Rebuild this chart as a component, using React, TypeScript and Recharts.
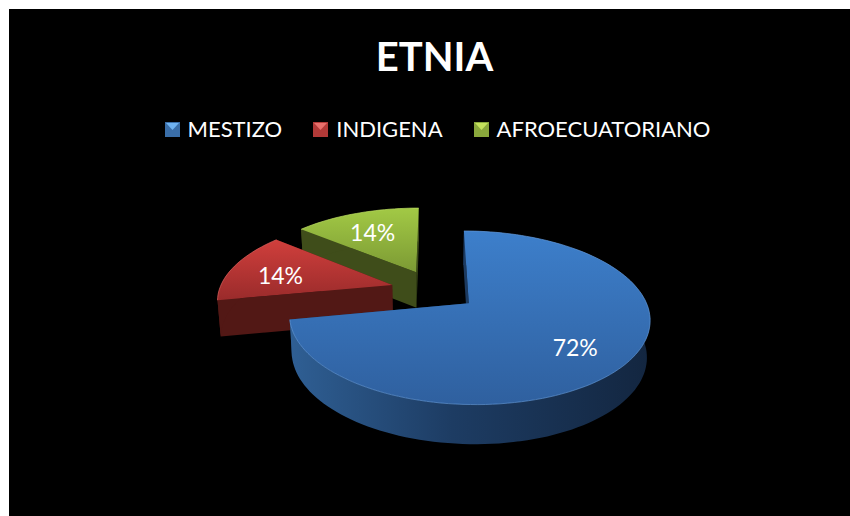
import { PieChart, Pie, Legend } from "recharts";

const names = ["MESTIZO", "INDIGENA", "AFROECUATORIANO"];
const shares = [72, 14, 14];

const fills = ["url(#topBlue)", "url(#topRed)", "url(#topGreen)"];
const walls = ["url(#wallBlue)", "#521815", "#3f4d1a"];
const rims = ["#5f96d6", "#d9605c", "#b8d860"];
const legendFills = ["#3a6ea8", "#b23a38", "#8aa83c"];
const legendTips = ["#6fb2f0", "#e8706c", "#c4e25c"];

// drawn back to front: green, red, blue, so the big slice covers the others
const pieData = names
  .map((name, i) => ({ name, value: shares[i], fill: fills[i], wall: walls[i], rim: rims[i] }))
  .reverse();

const W = 841;
const H = 507;
const FONT = "Lato, Carlito, sans-serif";

// fake 3D: the flat pie is laid on a plane and viewed in perspective
const SQUASH = 0.4624; // 80 / 173
const PERSP = 0.163;
const EXPLODE = 0.253;
const DEPTH = 36;

const rad = (deg: number) => (deg * Math.PI) / 180;

const project = (cx: number, cy: number, r: number, wx: number, wy: number) => {
  const d = 1 - PERSP * wy;
  return { x: cx + (r * wx) / d, y: cy + (r * SQUASH * wy) / d };
};

const sliceGeometry = (cx: number, cy: number, r: number, start: number, end: number) => {
  const mid = rad((start + end) / 2);
  const ox = Math.cos(mid) * EXPLODE;
  const oy = -Math.sin(mid) * EXPLODE;
  const at = (deg: number, f = 1) =>
    project(cx, cy, r, ox + f * Math.cos(rad(deg)), oy - f * Math.sin(rad(deg)));
  const drop = (p: { x: number; y: number }) => {
    const wy = (p.y - cy) / (r * SQUASH);
    return { x: cx + (p.x - cx) * 0.985, y: p.y + DEPTH * (1 + 0.07 * wy) };
  };
  const arc: { x: number; y: number }[] = [];
  const steps = Math.max(8, Math.ceil(Math.abs(end - start) / 2));
  for (let i = 0; i <= steps; i++) arc.push(at(start + ((end - start) * i) / steps));
  return { tip: at(0, 0), arc, drop };
};

const toPath = (pts: { x: number; y: number }[]) =>
  pts.map((p, i) => `${i ? "L" : "M"}${p.x.toFixed(1)},${p.y.toFixed(1)}`).join(" ") + " Z";

const Slice3D = (props: any) => {
  const { cx, cy, outerRadius, startAngle, endAngle, fill, wall, rim } = props;
  const { tip, arc, drop } = sliceGeometry(cx, cy, outerRadius, startAngle, endAngle);
  const first = arc[0];
  const last = arc[arc.length - 1];
  const arcWall = [...arc, ...arc.map(drop).reverse()];
  const rimPath = arc.map((p, i) => `${i ? "L" : "M"}${p.x.toFixed(1)},${p.y.toFixed(1)}`).join(" ");
  const flat = wall.startsWith("url") ? "#1c3a60" : wall;
  return (
    <g>
      <path d={toPath([tip, first, drop(first), drop(tip)])} fill={flat} />
      <path d={toPath([tip, last, drop(last), drop(tip)])} fill={flat} />
      <path d={toPath(arcWall)} fill={wall} />
      <path d={toPath([tip, ...arc])} fill={fill} />
      <path d={rimPath} fill="none" stroke={rim} strokeWidth={1} strokeOpacity={0.7} />
    </g>
  );
};

const renderLabel = (props: any) => {
  const { cx, cy, outerRadius, startAngle, endAngle, value } = props;
  const mid = (startAngle + endAngle) / 2;
  const ox = Math.cos(rad(mid)) * EXPLODE;
  const oy = -Math.sin(rad(mid)) * EXPLODE;
  const f = 0.7;
  const p = project(cx, cy, outerRadius, ox + f * Math.cos(rad(mid)), oy - f * Math.sin(rad(mid)));
  return (
    <text
      x={p.x}
      y={p.y + 6}
      fill="#ffffff"
      textAnchor="middle"
      dominantBaseline="middle"
      style={{ fontFamily: FONT, fontSize: 23 }}
    >
      {value}%
    </text>
  );
};

const LegendRow = () => (
  <div
    style={{
      display: "flex",
      justifyContent: "center",
      gap: 31,
      color: "#ffffff",
      fontFamily: FONT,
      fontSize: 22,
      lineHeight: "28px",
    }}
  >
    {names.map((name, i) => (
      <div key={name} style={{ display: "flex", alignItems: "center", gap: 8 }}>
        <svg width={15} height={15}>
          <rect width={15} height={15} fill={legendFills[i]} />
          <polygon points="1,1 14,1 7.5,8" fill={legendTips[i]} />
        </svg>
        <span>{name}</span>
      </div>
    ))}
  </div>
);

export default function App() {
  return (
    <div style={{ position: "fixed", left: 9, top: 9, width: W, height: H, background: "#000000" }}>
      <PieChart width={W} height={H} margin={{ top: 0, right: 0, bottom: 0, left: 0 }}>
        <defs>
          <linearGradient id="topBlue" x1="0" y1="0" x2="0" y2="1">
            <stop offset="0%" stopColor="#3d7fcb" />
            <stop offset="100%" stopColor="#2f609f" />
          </linearGradient>
          <linearGradient id="topRed" x1="0" y1="0" x2="0" y2="1">
            <stop offset="0%" stopColor="#d03f3c" />
            <stop offset="100%" stopColor="#9a2b2b" />
          </linearGradient>
          <linearGradient id="topGreen" x1="0" y1="0" x2="0" y2="1">
            <stop offset="0%" stopColor="#a2c945" />
            <stop offset="100%" stopColor="#7c9a34" />
          </linearGradient>
          <linearGradient id="wallBlue" x1="0" y1="0" x2="1" y2="0">
            <stop offset="0%" stopColor="#2f5f94" />
            <stop offset="45%" stopColor="#1d3c63" />
            <stop offset="100%" stopColor="#132640" />
          </linearGradient>
        </defs>
        <text
          x={425.5}
          y={52}
          fill="#ffffff"
          textAnchor="middle"
          dominantBaseline="middle"
          style={{ fontFamily: FONT, fontSize: 40, fontWeight: 700 }}
        >
          ETNIA
        </text>
        <Legend
          verticalAlign="top"
          content={<LegendRow />}
          wrapperStyle={{ top: 106, left: 8, width: W }}
        />
        <Pie
          data={pieData}
          dataKey="value"
          nameKey="name"
          cx={425.2}
          cy={253}
          outerRadius={173}
          startAngle={90}
          endAngle={450}
          stroke="none"
          isAnimationActive={false}
          shape={Slice3D}
          label={renderLabel}
          labelLine={false}
        />
      </PieChart>
    </div>
  );
}
